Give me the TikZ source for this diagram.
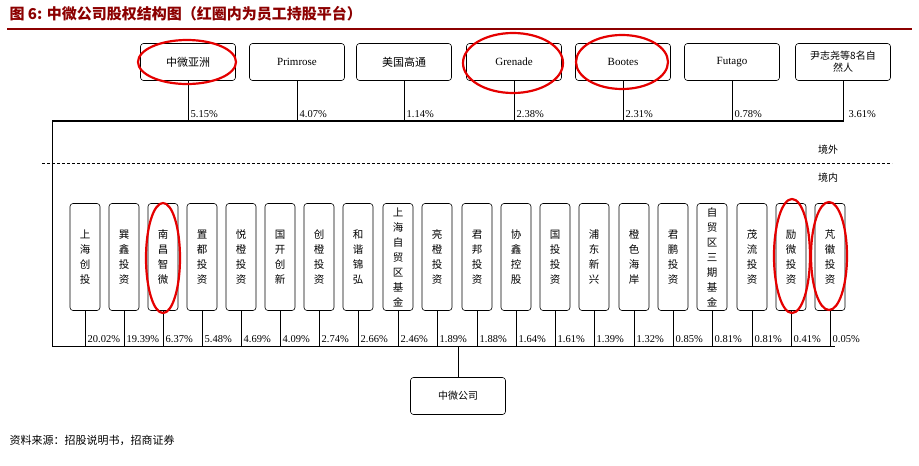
\documentclass[tikz,border=0pt]{standalone}
\usepackage{fontspec}
\setmainfont{Liberation Serif}
\newfontfamily\cjk{Noto Sans CJK SC}
\begin{document}
\begin{tikzpicture}[x=1pt,y=-1pt,
  box/.style={draw,rounded corners=3pt,line width=0.6pt,fill=white},
  tbox/.style={box,minimum width=95pt,minimum height=37pt,font=\fontsize{11}{12}\selectfont,inner sep=1pt},
  vbox/.style={box,minimum width=30pt,minimum height=107pt,font=\cjk\fontsize{10.5}{15}\selectfont,align=center,inner sep=0pt},
  pct/.style={font=\fontsize{10.5}{12}\selectfont,inner sep=1pt,xshift=1.5pt},
  ring/.style={draw=red!90!black,line width=2.2pt},
  ln/.style={line width=0.6pt}]
\useasboundingbox (0,0) rectangle (919,466);
\node[anchor=west,font=\cjk\bfseries\fontsize{15}{17}\selectfont,text=red!55!black] (title) at (6,14) {图 6:  中微公司股权结构图（红圈内为员工持股平台）};
\draw[red!55!black,line width=1.3pt] (7,29) -- (912,29);
\node[anchor=west,font=\cjk\fontsize{11}{13}\selectfont] (src) at (6,440) {资料来源：招股说明书，招商证券};
% top row
\coordinate (TL) at (52,121);
\coordinate (TR) at (844,121);
\draw[line width=1.4pt] (TL) -- (TR);
\foreach \i/\x/\t/\p in {1/188/{\cjk 中微亚洲}/5.15\%,2/297/Primrose/4.07\%,3/404/{\cjk 美国高通}/1.14\%,4/514/Grenade/2.38\%,5/623/Bootes/2.31\%,6/732/Futago/0.78\%}{
  \node[tbox] (t\i) at (\x,62) {\t};
  \coordinate (tb\i) at (\x,121);
  \draw[ln] (t\i.south) -- (tb\i);
  \node[pct,anchor=south west] (tp\i) at (\x,119) {\p};
}
\node[tbox,align=center,font=\cjk\fontsize{10}{12}\selectfont] (t7) at (843,62) {尹志尧等8名自\\然人};
\coordinate (tb7) at (843,121);
\draw[ln] (t7.south) -- (tb7);
\node[pct,anchor=south west] (tp7) at (846,119) {3.61\%};
% dashed
\coordinate (d1) at (42,163);
\coordinate (d2) at (892,163);
\draw[dashed,line width=0.9pt,dash pattern=on 3pt off 2pt] (d1) -- (d2);
\node[font=\cjk\fontsize{10}{12}\selectfont] (jw) at (828,150) {境外};
\node[font=\cjk\fontsize{10}{12}\selectfont] (jn) at (828,178) {境内};
% bottom
\coordinate (BL) at (52,346);
\coordinate (BR) at (835,346);
\draw[ln] (TL) -- (BL) -- (BR);
\foreach \i/\x/\t/\p in {1/85/上\\海\\创\\投/20.02\%,2/124/巽\\鑫\\投\\资/19.39\%,3/163/南\\昌\\智\\微/6.37\%,4/202/置\\都\\投\\资/5.48\%,5/241/悦\\橙\\投\\资/4.69\%,6/280/国\\开\\创\\新/4.09\%,7/319/创\\橙\\投\\资/2.74\%,8/358/和\\谐\\锦\\弘/2.66\%,9/398/上\\海\\自\\贸\\区\\基\\金/2.46\%,10/437/亮\\橙\\投\\资/1.89\%,11/477/君\\邦\\投\\资/1.88\%,12/516/协\\鑫\\控\\股/1.64\%,13/555/国\\投\\投\\资/1.61\%,14/594/浦\\东\\新\\兴/1.39\%,15/634/橙\\色\\海\\岸/1.32\%,16/673/君\\鹏\\投\\资/0.85\%,17/712/自\\贸\\区\\三\\期\\基\\金/0.81\%,18/752/茂\\流\\投\\资/0.81\%,19/791/励\\微\\投\\资/0.41\%,20/830/芃\\徽\\投\\资/0.05\%}{
  \node[vbox] (b\i) at (\x,257) {\t};
  \coordinate (bb\i) at (\x,346);
  \draw[ln] (b\i.south) -- (bb\i);
  \node[pct,anchor=south west] (bp\i) at (\x,344) {\p};
}
\node[tbox,font=\cjk\fontsize{10}{12}\selectfont] (zw) at (458,396) {中微公司};
\coordinate (zt) at (458,346);
\draw[ln] (zt) -- (zw.north);
% red rings
\draw[ring] (187,62) ellipse (49pt and 22pt);
\draw[ring] (513,63) ellipse (50pt and 30pt);
\draw[ring] (622,62) ellipse (46pt and 27pt);
\draw[ring] (163,258) ellipse (17pt and 55pt);
\draw[ring] (792,256) ellipse (18pt and 57pt);
\draw[ring] (829,256) ellipse (18pt and 54pt);
\end{tikzpicture}
\end{document}
